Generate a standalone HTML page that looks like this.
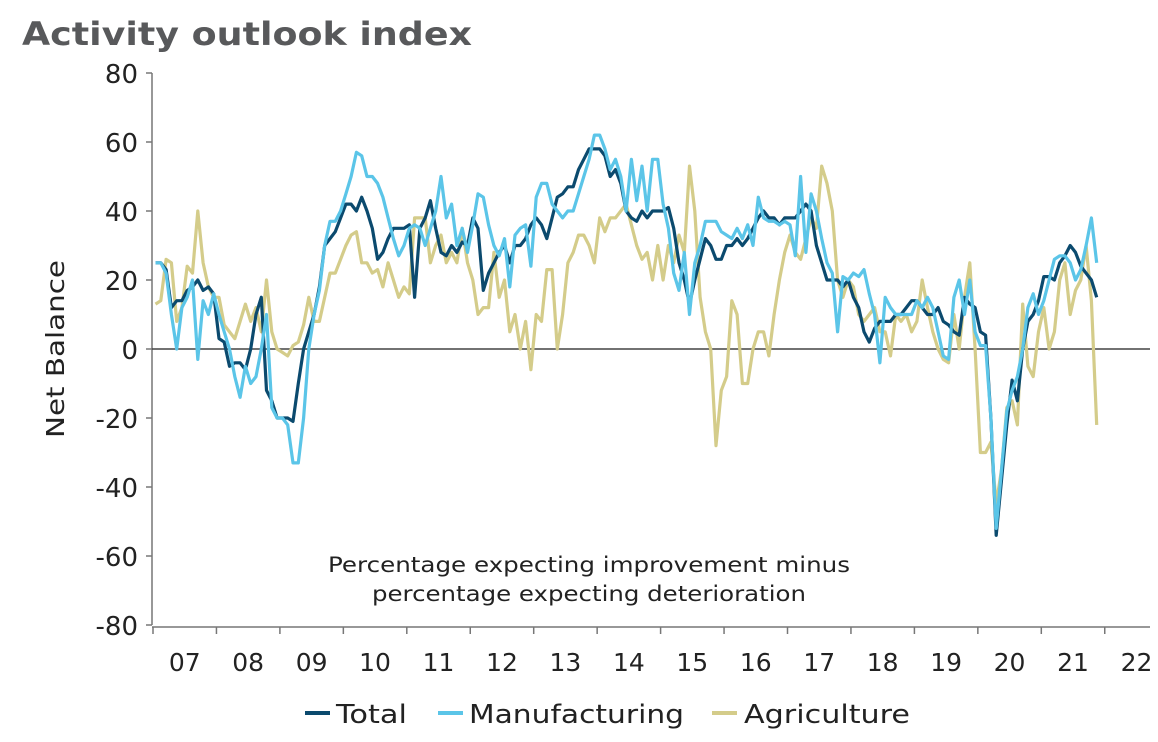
<!DOCTYPE html>
<html><head><meta charset="utf-8">
<style>
body{margin:0;background:#fff;width:1158px;height:738px;overflow:hidden;font-family:"DejaVu Sans","Liberation Sans",sans-serif;}
</style></head>
<body>
<svg id="chart" width="1158" height="738" xmlns="http://www.w3.org/2000/svg" font-family="DejaVu Sans, Liberation Sans, sans-serif">
<text x="22" y="45" font-size="32" font-weight="bold" fill="#58595b" textLength="450" lengthAdjust="spacingAndGlyphs">Activity outlook index</text>
<text transform="translate(64,349) rotate(-90)" text-anchor="middle" font-size="25" fill="#222" textLength="178" lengthAdjust="spacingAndGlyphs">Net Balance</text>
<text x="589" y="572" text-anchor="middle" font-size="21" fill="#222" textLength="522" lengthAdjust="spacingAndGlyphs">Percentage expecting improvement minus</text>
<text x="589" y="601" text-anchor="middle" font-size="21" fill="#222" textLength="434" lengthAdjust="spacingAndGlyphs">percentage expecting deterioration</text>
<g id="axes"></g>
<g id="series"></g>
<g>
 <line x1="305" y1="713" x2="330" y2="713" stroke="#0b4a6e" stroke-width="4"/>
 <text x="336" y="723" font-size="26" fill="#222" textLength="71" lengthAdjust="spacingAndGlyphs">Total</text>
 <line x1="438" y1="713" x2="463" y2="713" stroke="#5bc5e8" stroke-width="4"/>
 <text x="469" y="723" font-size="26" fill="#222" textLength="215" lengthAdjust="spacingAndGlyphs">Manufacturing</text>
 <line x1="712" y1="713" x2="737" y2="713" stroke="#d4cc8a" stroke-width="4"/>
 <text x="744" y="723" font-size="26" fill="#222" textLength="166" lengthAdjust="spacingAndGlyphs">Agriculture</text>
</g>
</svg>
<script>
const yTicks=[80,60,40,20,0,-20,-40,-60,-80];
const yearLabels=["07","08","09","10","11","12","13","14","15","16","17","18","19","20","21","22"];
const total=[25,25,23,12,14,14,17,18,20,17,18,16,
3,2,-5,-4,-4,-6,0,10,15,-12,-15,-20,
-20,-20,-21,-10,0,5,10,18,30,32,34,38,
42,42,40,44,40,35,26,28,32,35,35,35,
36,15,35,38,43,35,28,27,30,28,31,30,
38,35,17,22,25,28,30,25,30,30,32,36,
38,36,32,38,44,45,47,47,52,55,58,58,
58,56,50,52,48,40,38,37,40,38,40,40,
40,41,35,25,20,13,20,26,32,30,26,26,
30,30,32,30,32,35,38,40,38,38,36,38,
38,38,40,42,40,30,25,20,20,20,18,20,
15,12,5,2,6,8,8,8,10,10,12,14,
14,12,10,10,12,8,7,5,4,15,13,12,
5,4,-20,-54,-38,-22,-9,-15,0,8,10,14,
21,21,20,25,27,30,28,24,22,20,15];
const manufacturing=[25,25,22,10,0,12,15,20,-3,14,10,16,
10,5,0,-8,-14,-5,-10,-8,0,10,-17,-20,
-20,-22,-33,-33,-20,0,10,17,30,37,37,40,
45,50,57,56,50,50,48,44,38,32,27,30,
35,36,35,30,35,40,50,38,42,30,35,28,
36,45,44,36,30,27,32,18,33,35,36,24,
44,48,48,42,40,38,40,40,45,50,55,62,
62,58,52,55,50,40,55,43,53,40,55,55,
42,35,22,17,28,10,25,30,37,37,37,34,
33,32,35,32,36,30,44,38,37,37,36,37,
36,27,50,28,45,40,32,25,22,5,21,20,
22,21,23,16,10,-4,15,12,10,10,10,10,
14,12,15,12,5,-2,-3,15,20,10,20,5,
1,1,-20,-52,-35,-18,-12,-8,0,12,16,10,
14,20,26,27,27,25,20,23,30,38,25];
const agriculture=[13,14,26,25,8,12,24,22,40,25,18,15,
15,7,5,3,8,13,8,12,5,20,5,0,
-1,-2,1,2,7,15,8,8,15,22,22,26,
30,33,34,25,25,22,23,18,25,20,15,18,
16,38,38,38,25,30,33,25,28,25,35,25,
20,10,12,12,28,15,20,5,10,0,8,-6,
10,8,23,23,0,10,25,28,33,33,30,25,
38,34,38,38,40,42,36,30,26,28,20,30,
20,30,25,33,28,53,40,15,5,0,-28,-12,
-8,14,10,-10,-10,0,5,5,-2,10,20,28,
33,28,26,32,38,35,53,48,40,20,15,20,
18,10,8,10,12,5,5,-2,10,8,10,5,
8,20,12,5,0,-3,-4,10,0,15,25,0,
-30,-30,-27,-45,-35,-17,-15,-22,13,-5,-8,5,
12,0,5,20,25,10,17,20,30,14,-22];

const NS="http://www.w3.org/2000/svg";
const X0=153, yearW=63.45, plotR=1150;
function yScale(v){return 349 - v*(552/160);}
function xScale(i){return X0 + 2.5 + i*yearW/12;}
const axes=document.getElementById('axes');
function mk(tag,attrs){const e=document.createElementNS(NS,tag);for(const k in attrs)e.setAttribute(k,attrs[k]);return e;}
const yl=mk('line',{x1:152,y1:yScale(80),x2:152,y2:yScale(-80),stroke:'#777','stroke-width':1.5});


axes.appendChild(yl);
yTicks.forEach(v=>{
 const t=mk('line',{x1:146,y1:yScale(v),x2:152,y2:yScale(v),stroke:'#777','stroke-width':1.5});
 
 
 axes.appendChild(t);
 const lb=mk('text',{x:138,y:yScale(v)+10,'text-anchor':'end','font-size':26,fill:'#222'});
 lb.textContent=v;
 
 
 axes.appendChild(lb);
});
const xl=mk('line',{x1:152,y1:627,x2:plotR,y2:627,stroke:'#777','stroke-width':1.5});


axes.appendChild(xl);
const zl=mk('line',{x1:152,y1:yScale(0),x2:plotR,y2:yScale(0),stroke:'#444','stroke-width':1.5});


axes.appendChild(zl);
yearLabels.forEach((y,k)=>{
 const xt=X0+k*yearW;
 const t=mk('line',{x1:xt,y1:627,x2:xt,y2:634,stroke:'#777','stroke-width':1.5});
 
 
 axes.appendChild(t);
 const lb=mk('text',{x:xt+yearW/2,y:671,'text-anchor':'middle','font-size':25,fill:'#222'});
 lb.textContent=y;
 
 
 axes.appendChild(lb);
});
const g=document.getElementById('series');
[[agriculture,'#d4cc8a','agriculture-line'],[total,'#0b4a6e','total-line'],[manufacturing,'#5bc5e8','manufacturing-line']].forEach(([arr,c,n])=>{
 const p=mk('polyline',{points:arr.map((v,i)=>xScale(i).toFixed(1)+','+yScale(v).toFixed(1)).join(' '),fill:'none',stroke:c,'stroke-width':3.2,'stroke-linejoin':'round'});
 
 
 g.appendChild(p);
});
</script>
</body></html>
